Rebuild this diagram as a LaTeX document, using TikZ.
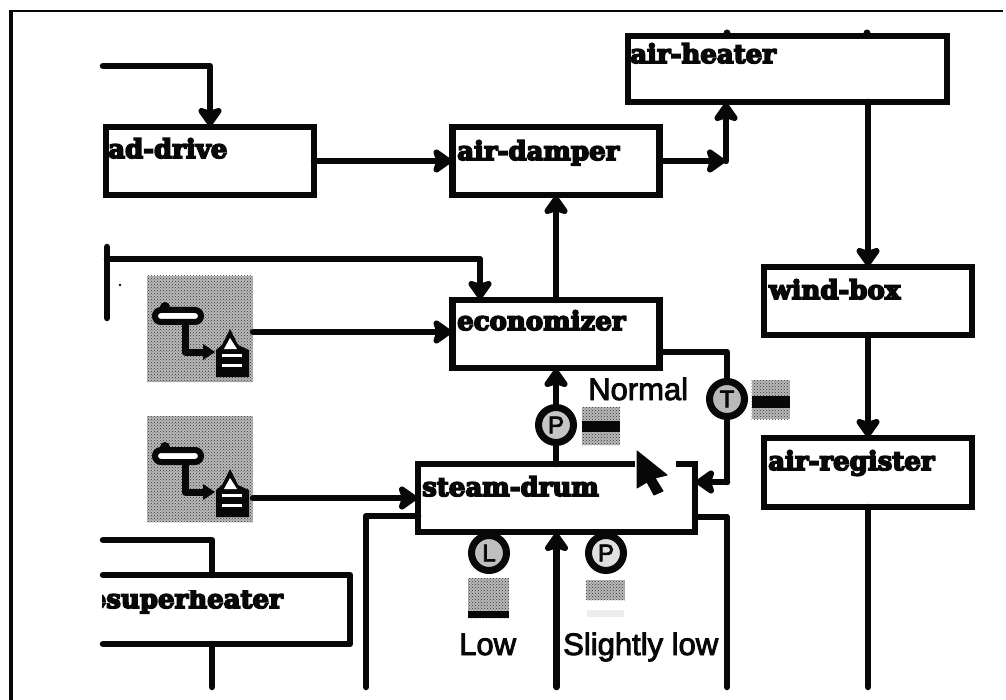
\documentclass[tikz,border=0pt]{standalone}
\usepackage{fontspec}
\setmainfont{Liberation Sans}
\newfontfamily\slabfont{DejaVu Serif Bold}
\newfontfamily\wordfont{Liberation Sans}
\newcommand\heavy[2]{\special{pdf:code 2 Tr #1 w}#2\special{pdf:code 0 Tr}}
\usetikzlibrary{arrows.meta,patterns,calc}
\definecolor{ink}{gray}{0.03}
\pgfdeclarearrow{
  name=Blob,
  setup code={\pgfarrowssettipend{0pt}\pgfarrowssetlineend{-10pt}\pgfarrowssetvisualbackend{-17pt}\pgfarrowssetbackend{-20pt}\pgfarrowshullpoint{0pt}{0pt}\pgfarrowshullpoint{-20pt}{12pt}\pgfarrowshullpoint{-20pt}{-12pt}},
  defaults={},
  drawing code={
    \pgfsetlinewidth{6pt}\pgfsetroundjoin\pgfsetroundcap\pgfsetstrokecolor{ink}\pgfsetfillcolor{ink}
    \pgfpathmoveto{\pgfpoint{-4pt}{0pt}}
    \pgfpathlineto{\pgfpoint{-16pt}{8.5pt}}
    \pgfpathlineto{\pgfpoint{-13pt}{0pt}}
    \pgfpathlineto{\pgfpoint{-16pt}{-8.5pt}}
    \pgfpathclose
    \pgfusepathqfillstroke
  }
}
\tikzset{
  every picture/.style={x=1pt,y=-1pt},
  pipe/.style={draw=ink,line width=6.5pt,line cap=round,line join=round},
  flow/.style={pipe,-{Blob}},
  unit/.style={draw=ink,line width=6.5pt,rectangle,inner sep=0pt,outer sep=0pt},
  lbl/.style={anchor=base west,inner sep=0pt,text=ink,font=\slabfont\fontsize{26}{26}\selectfont},
  word/.style={anchor=base west,inner sep=0pt,text=ink,font=\wordfont\fontsize{31}{31}\selectfont},
  gauge/.style={circle,draw=ink,line width=7pt,minimum size=35pt,inner sep=0pt,outer sep=0pt,text=ink,font=\wordfont\fontsize{24}{24}\selectfont},
  dither/.style={rectangle,inner sep=0pt,outer sep=0pt,fill=gray!55,postaction={pattern=crosshatch dots,pattern color=black!80}},
  lightdither/.style={rectangle,inner sep=0pt,outer sep=0pt,fill=gray!15},
  bar/.style={fill=ink,draw=none},
}
\begin{document}
\begin{tikzpicture}
\useasboundingbox (0,0) rectangle (1006,700);
% frame
\draw[ink,line width=4pt] (11,700) -- (11,11);
\draw[ink,line width=2.5pt] (9,11) -- (1003,11);
% boxes
\node[unit,minimum width=208pt,minimum height=68pt] (adrive) at (210,161) {};
\node[unit,minimum width=207pt,minimum height=68pt] (damper) at (556,161) {};
\node[unit,minimum width=319pt,minimum height=66pt] (heater) at (787.5,69) {};
\node[unit,minimum width=208pt,minimum height=68pt] (wind) at (868,301) {};
\node[unit,minimum width=208pt,minimum height=69pt] (register) at (868,472.5) {};
\node[unit,minimum width=207pt,minimum height=68pt] (eco) at (556,334) {};
\node[unit,minimum width=277pt,minimum height=68pt] (drum) at (556.5,498) {};
% open desuperheater box
\coordinate (dtl) at (103,575);
\coordinate (dtm) at (212,575);
\coordinate (dtr) at (350,575);
\coordinate (dbr) at (350,644);
\coordinate (dbm) at (212,644);
\coordinate (dbl) at (103,644);
\draw[pipe] (dtl) -- (dtr) -- (dbr) -- (dbl);
% labels
\node[lbl] (tadrive) at (108,158) {\heavy{1.6}{ad-drive}};
\node[lbl] (tdamper) at (457,160) {\heavy{1.6}{air-damper}};
\node[lbl] (theater) at (630,63) {\heavy{1.6}{air-heater}};
\node[lbl] (twind) at (769,299) {\heavy{1.6}{wind-box}};
\node[lbl] (tregister) at (768,470) {\heavy{1.6}{air-register}};
\node[lbl] (teco) at (457,330) {\heavy{1.6}{economizer}};
\node[lbl] (tdrum) at (422,496) {\heavy{1.6}{steam-drum}};
\begin{scope}
\clip (102,590) rectangle (340,625);
\node[lbl,anchor=base east] (tsuper) at (283,608) {\heavy{1.6}{esuperheater}};
\end{scope}
% free ends
\coordinate (a1) at (103,66);
\coordinate (a2) at (210,66);
\coordinate (b1) at (107,259);
\coordinate (b0) at (107,247);
\coordinate (b9) at (107,318);
\coordinate (b2) at (480,259);
\coordinate (c1) at (103,540);
\coordinate (c2) at (212,540);
\coordinate (d1) at (212,687);
\coordinate (e1) at (366,687);
\coordinate (e2) at (366,516);
\coordinate (f1) at (556.5,687);
\coordinate (g1) at (727,687);
\coordinate (g2) at (727,517);
\coordinate (h1) at (868,687);
\coordinate (k) at (726,161);
\coordinate (t1) at (727,352);
\coordinate (t2) at (727,482);
% connectors
\draw[flow] (a1) -- (a2) -- (a2 |- adrive.north);
\draw[flow] (adrive.east) -- (damper.west);
\draw[flow] (damper.east) -- (k);
\draw[flow] (k) -- (k |- heater.south);
\draw[flow] (heater.south -| wind.north) -- (wind.north);
\draw[flow] (wind.south) -- (register.north);
\draw[pipe] (register.south) -- (h1);
\draw[flow] (eco.north) -- (damper.south);
\draw[pipe] (b0) -- (b9);
\draw[flow] (b1) -- (b2) -- (b2 |- eco.north);
\draw[pipe] (c1) -- (c2) -- (dtm);
\draw[pipe] (dbm) -- (d1);
\draw[pipe] (e1) -- (e2) -- (e2 -| drum.west);
\draw[flow] (f1) -- (drum.south);
\draw[pipe] (g1) -- (g2) -- (g2 -| drum.east);
% gauges
\node[gauge,fill=gray!45] (pa) at (556,425) {\heavy{0.8}{P}};
\node[gauge,fill=gray!55] (ta) at (727,399) {\heavy{0.8}{T}};
\node[gauge,fill=gray!50] (la) at (489,553) {\heavy{0.8}{L}};
\node[gauge,fill=gray!25] (pb) at (606,553) {\heavy{0.8}{P}};
\draw[flow] (pa.north) -- (pa.north |- eco.south);
\draw[pipe] (pa.south) -- (pa.south |- drum.north);
\draw[pipe] (eco.east |- t1) -- (t1) -- (ta.north);
\draw[pipe] (ta.south) -- (t2);
\draw[flow] (t2) -- (t2 -| drum.east);
% swatches
\node[dither,minimum width=38pt,minimum height=38pt] (sp) at (601,426) {};
\fill[bar] (582,421) rectangle (620,432);
\node[dither,minimum width=38pt,minimum height=39pt] (st) at (770.5,399.5) {};
\fill[bar] (752,396) rectangle (790,408);
\node[dither,minimum width=41pt,minimum height=40pt] (sl) at (488.5,598) {};
\fill[bar] (468,611) rectangle (509,618);
\node[dither,minimum width=39pt,minimum height=20pt] (sm) at (605.5,590) {};
\node[lightdither,minimum width=37pt,minimum height=7pt] (sn) at (605.5,613.5) {};
% words
\node[word] (normal) at (588,400) {\heavy{0.9}{Normal}};
\node[word] (low) at (459,655) {\heavy{0.9}{Low}};
\node[word] (slow) at (563,655) {\heavy{0.9}{Slightly low}};
% heat-exchanger icons
\foreach \n/\y in {ia/276,ib/416}{
  \node[dither,minimum width=106pt,minimum height=106pt,anchor=north west] (\n) at (147,\y) {};
  \begin{scope}[shift={(0,\y-276)}]
    \fill[ink] (165,307) circle (5);
    \draw[ink,line width=6pt,fill=white,rounded corners=6pt] (155,310) rectangle (201,322);
    \draw[ink,line width=7pt,line join=round] (185,322) -- (185,352) -- (208,352);
    \fill[ink] (203,344) -- (215,352) -- (203,360) -- cycle;
    \fill[ink] (216,377) -- (216,350) -- (222,345) -- (230,329) -- (238,345) -- (249,350) -- (249,377) -- cycle;
    \fill[white] (224,349) -- (230,338) -- (237,349) -- cycle;
    \fill[white] (222,354) rectangle (242,357);
    \fill[white] (222,364) rectangle (242,367);
  \end{scope}
}
\draw[flow] ([yshift=-3pt]ia.east) -- ([yshift=-3pt]ia.east -| eco.west);
\draw[flow] ([yshift=-29pt]ib.east) -- ([yshift=-29pt]ib.east -| drum.west);
% cursor gap and cursor
\fill[white] (635,459) rectangle (676,469);
\fill[ink,draw=ink,line width=1pt,line join=round] (637,451) -- (667,475) -- (655,478) -- (663,491) -- (654,495) -- (647,482) -- (637,488) -- cycle;
% stray marks
\fill[ink] (120,285) circle (1.3);
\fill[ink] (727,33) circle (3.5);
\fill[ink] (867,33) circle (3.5);
\end{tikzpicture}
\end{document}
